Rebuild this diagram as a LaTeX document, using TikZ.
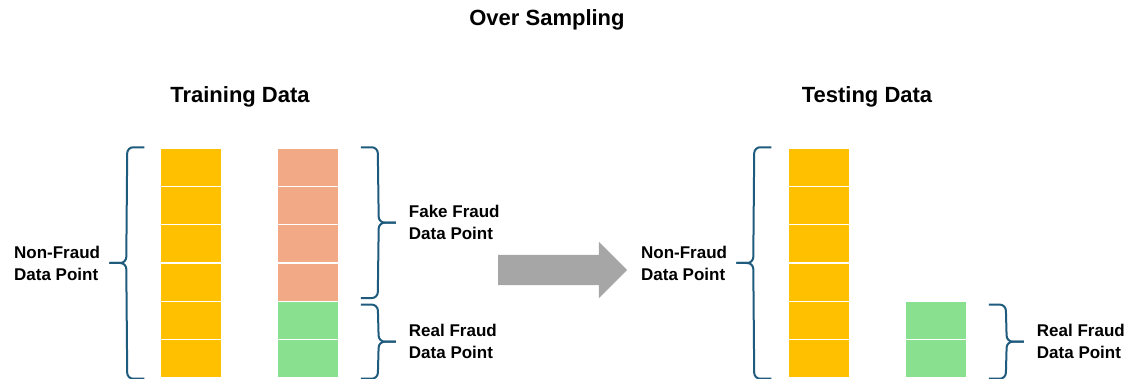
\documentclass[tikz,border=0pt]{standalone}
\usepackage{fontspec}
\setmainfont{Liberation Sans}
\usepackage{tikz}
\usetikzlibrary{positioning,calc,shapes.arrows}
\definecolor{cellyel}{HTML}{FFC000}
\definecolor{cellfake}{HTML}{F1AA85}
\definecolor{cellreal}{HTML}{89E08E}
\definecolor{brccol}{HTML}{1F5B7D}
\definecolor{arrgray}{HTML}{A6A6A6}

% brace: #1 top end, #2 bottom end, #3 name of tip, #4 direction (-1 left, 1 right)
\newcommand{\bracetip}[4]{%
  \coordinate (#3) at ($(#1)!.5!(#2)+(#4*35,0)$);
  \draw[brc] (#3) -- ++(-#4*17,0) -- ($(#1)+(#4*17,0)$) -- (#1);
  \draw[brc] (#3) -- ++(-#4*17,0) -- ($(#2)+(#4*17,0)$) -- (#2);
}

\begin{document}
\begin{tikzpicture}
    [
        x=1pt, y=-1pt,
        cell/.style={draw=white, line width=1.5pt, minimum width=62pt, minimum height=38.33pt, inner sep=0pt},
        brc/.style={draw=brccol, line width=2pt, rounded corners=6pt},
        lbl/.style={font=\fontsize{17}{22}\selectfont\bfseries, align=left, inner sep=0pt},
        ttl/.style={font=\fontsize{22}{26}\selectfont\bfseries, anchor=base}
    ]
    \useasboundingbox (0,0) rectangle (1133,378);

    \node[ttl] (title) at (547,25) {Over Sampling};
    \node[ttl] (trainTitle) at (240,102) {Training Data};
    \node[ttl] (testTitle) at (867,102) {Testing Data};

    % training data
    \foreach \i in {1,...,6}
        \node[cell, fill=cellyel] (tA\i) at (191,{148+38.33*(\i-0.5)}) {};
    \foreach \i in {1,...,4}
        \node[cell, fill=cellfake] (tB\i) at (308,{148+38.33*(\i-0.5)}) {};
    \foreach \i in {5,6}
        \node[cell, fill=cellreal] (tB\i) at (308,{148+38.33*(\i-0.5)}) {};

    \coordinate (nfT1) at ([xshift=-15pt]tA1.north west);
    \coordinate (nfT2) at ([xshift=-15pt]tA6.south west);
    \bracetip{nfT1}{nfT2}{nfTip}{-1}
    \coordinate (ffT1) at ([xshift=21pt]tB1.north east);
    \coordinate (ffT2) at ([xshift=21pt,yshift=4pt]tB4.south east);
    \bracetip{ffT1}{ffT2}{ffTip}{1}
    \coordinate (rfT1) at ([xshift=21pt,yshift=-4pt]tB5.north east);
    \coordinate (rfT2) at ([xshift=21pt]tB6.south east);
    \bracetip{rfT1}{rfT2}{rfTip}{1}

    \node[lbl, left=9pt of nfTip] (nfLbl) {Non-Fraud\\Data Point};
    \node[lbl, right=13pt of ffTip] (ffLbl) {Fake Fraud\\Data Point};
    \node[lbl, right=13pt of rfTip] (rfLbl) {Real Fraud\\Data Point};

    \node[single arrow, fill=arrgray, minimum height=129pt, minimum width=56pt,
          single arrow head extend=13pt, inner xsep=0pt, inner ysep=15pt] (ovArrow) at (555,270) {};

    % testing data
    \foreach \i in {1,...,6}
        \node[cell, fill=cellyel] (sA\i) at (819,{148+38.33*(\i-0.5)}) {};
    \foreach \i in {5,6}
        \node[cell, fill=cellreal] (sB\i) at (936,{148+38.33*(\i-0.5)}) {};

    \coordinate (nfS1) at ([xshift=-16pt]sA1.north west);
    \coordinate (nfS2) at ([xshift=-16pt]sA6.south west);
    \bracetip{nfS1}{nfS2}{nfsTip}{-1}
    \coordinate (rfS1) at ([xshift=21pt,yshift=-4pt]sB5.north east);
    \coordinate (rfS2) at ([xshift=21pt]sB6.south east);
    \bracetip{rfS1}{rfS2}{rfsTip}{1}

    \node[lbl, left=9pt of nfsTip] (nfsLbl) {Non-Fraud\\Data Point};
    \node[lbl, right=13pt of rfsTip] (rfsLbl) {Real Fraud\\Data Point};
\end{tikzpicture}
\end{document}
